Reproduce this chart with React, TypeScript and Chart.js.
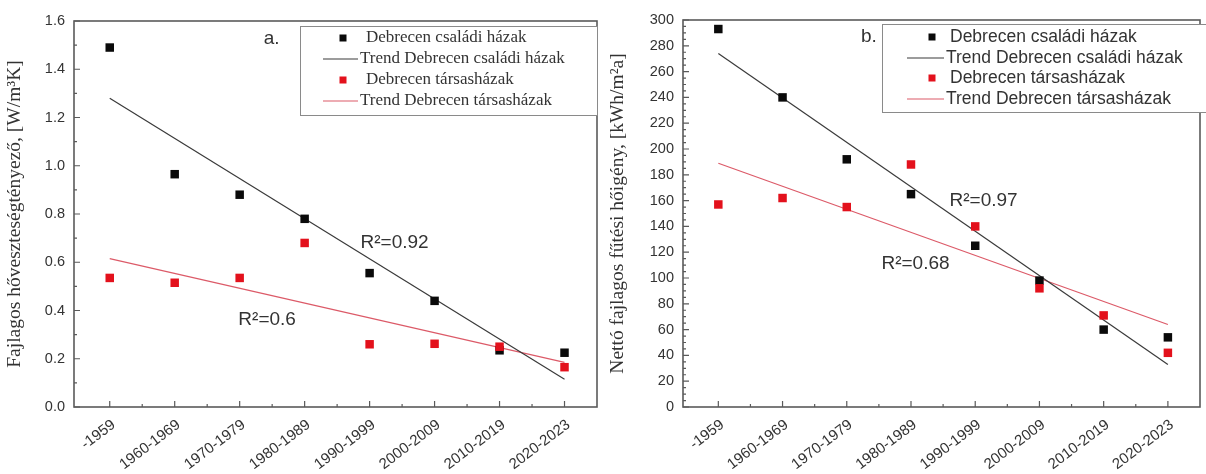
import React, { useEffect, useRef } from 'react';
import { Chart, registerables } from 'chart.js';

Chart.register(...registerables);

// ---------- data ----------
const categories = ['-1959', '1960-1969', '1970-1979', '1980-1989', '1990-1999', '2000-2009', '2010-2019', '2020-2023'];

// (a) specific heat loss coefficient [W/m3K]
const uHouses = [1.49, 0.965, 0.88, 0.78, 0.555, 0.44, 0.235, 0.225];
const uFlats = [0.535, 0.515, 0.535, 0.68, 0.26, 0.262, 0.25, 0.165];
const uTrendHouses = [1.28, 0.115];
const uTrendFlats = [0.615, 0.185];
const uTicks = [0, 0.2, 0.4, 0.6, 0.8, 1.0, 1.2, 1.4, 1.6];

// (b) net specific heating demand [kWh/m2a]
const qHouses = [293, 240, 192, 165, 125, 98, 60, 54];
const qFlats = [157, 162, 155, 188, 140, 92, 71, 42];
const qTrendHouses = [274, 33];
const qTrendFlats = [189, 64];
const qTicks = [0, 20, 40, 60, 80, 100, 120, 140, 160, 180, 200, 220, 240, 260, 280, 300];

const trendX = [0, 7];

const legendLabels = [
  'Debrecen családi házak',
  'Trend Debrecen családi házak',
  'Debrecen társasházak',
  'Trend Debrecen társasházak',
];

const titleA = 'Fajlagos hőveszteségtényező, [W/m³K]';
const titleB = 'Nettó fajlagos fűtési hőigény, [kWh/m²a]';

const notesA = [
  { text: 'a.', x: 2.37, y: 1.525 },
  { text: 'R²=0.92', x: 3.86, y: 0.68 },
  { text: 'R²=0.6', x: 1.98, y: 0.363 },
];
const notesB = [
  { text: 'b.', x: 2.22, y: 287 },
  { text: 'R²=0.97', x: 3.6, y: 160 },
  { text: 'R²=0.68', x: 2.54, y: 111 },
];

// ---------- colours ----------
const BLACK = '#0a0a0a';
const RED = '#e3111c';
const TREND_BLACK = '#3a3a3a';
const TREND_RED = '#dc5a68';
const AXIS = '#5a5a5a';
const TEXT = '#333333';

// ---------- plugins ----------
const frameTicks = {
  id: 'frameTicks',
  afterDatasetsDraw(chart: any, _a: any, opts: any) {
    const { ctx, chartArea: a } = chart;
    const xs = chart.scales.x;
    const ys = chart.scales.y;
    ctx.save();
    ctx.strokeStyle = AXIS;
    ctx.lineWidth = 1.6;
    ctx.strokeRect(a.left, a.top, a.right - a.left, a.bottom - a.top);
    ctx.lineWidth = 1.2;
    ctx.beginPath();
    const yt = ys.ticks.map((t: any) => t.value);
    for (let i = 0; i < yt.length; i++) {
      const p = ys.getPixelForValue(yt[i]);
      ctx.moveTo(a.left, p);
      ctx.lineTo(a.left + 6, p);
      if (i < yt.length - 1) {
        const n = opts.yMinorCount;
        for (let k = 1; k <= n; k++) {
          const v = yt[i] + ((yt[i + 1] - yt[i]) * k) / (n + 1);
          const q = ys.getPixelForValue(v);
          ctx.moveTo(a.left, q);
          ctx.lineTo(a.left + 3, q);
        }
      }
    }
    const xt = xs.ticks.map((t: any) => t.value);
    for (let i = 0; i < xt.length; i++) {
      const p = xs.getPixelForValue(xt[i]);
      ctx.moveTo(p, a.bottom);
      ctx.lineTo(p, a.bottom - 6);
      if (i < xt.length - 1) {
        const q = xs.getPixelForValue((xt[i] + xt[i + 1]) / 2);
        ctx.moveTo(q, a.bottom);
        ctx.lineTo(q, a.bottom - 3);
      }
    }
    ctx.stroke();
    ctx.restore();
  },
};

const boxLegend = {
  id: 'boxLegend',
  afterDraw(chart: any, _a: any, o: any) {
    const { ctx } = chart;
    const ds = chart.data.datasets;
    ctx.save();
    ctx.fillStyle = '#ffffff';
    ctx.fillRect(o.left, o.top, o.right - o.left, o.bottom - o.top);
    ctx.strokeStyle = '#8a8a8a';
    ctx.lineWidth = 1;
    ctx.strokeRect(o.left + 0.5, o.top + 0.5, o.right - o.left, o.bottom - o.top);
    ctx.font = o.font;
    ctx.textBaseline = 'middle';
    ctx.textAlign = 'left';
    ds.forEach((d: any, i: number) => {
      const y = o.rows[i];
      if (d.showLine) {
        ctx.strokeStyle = d.borderColor;
        ctx.lineWidth = 1.2;
        ctx.beginPath();
        ctx.moveTo(o.lineX1, y);
        ctx.lineTo(o.lineX2, y);
        ctx.stroke();
        ctx.fillStyle = TEXT;
        ctx.fillText(d.label, o.lineX2 + 2, y);
      } else {
        ctx.fillStyle = d.backgroundColor;
        ctx.fillRect(o.symX - 3.5, y - 3.5, 7, 7);
        ctx.fillStyle = TEXT;
        ctx.fillText(d.label, o.textX, y);
      }
    });
    ctx.restore();
  },
};

const notesPlugin = {
  id: 'notes',
  afterDraw(chart: any, _a: any, o: any) {
    const { ctx } = chart;
    const xs = chart.scales.x;
    const ys = chart.scales.y;
    ctx.save();
    ctx.font = o.font;
    ctx.fillStyle = TEXT;
    ctx.textAlign = 'left';
    ctx.textBaseline = 'middle';
    o.items.forEach((n: any) => {
      ctx.fillText(n.text, xs.getPixelForValue(n.x), ys.getPixelForValue(n.y));
    });
    ctx.restore();
  },
};

// ---------- config builder ----------
function buildConfig(p: any) {
  const pts = (vals: number[]) => vals.map((v, i) => ({ x: i, y: v }));
  const trend = (vals: number[]) => vals.map((v, i) => ({ x: trendX[i], y: v }));
  return {
    type: 'scatter',
    data: {
      datasets: [
        {
          label: legendLabels[0],
          data: pts(p.houses),
          backgroundColor: BLACK,
          borderColor: BLACK,
          pointStyle: 'rect',
          pointRadius: 6,
          borderWidth: 0,
          showLine: false,
          order: 1,
        },
        {
          label: legendLabels[1],
          data: trend(p.trendHouses),
          borderColor: TREND_BLACK,
          backgroundColor: TREND_BLACK,
          borderWidth: 1.2,
          pointRadius: 0,
          showLine: true,
          order: 2,
        },
        {
          label: legendLabels[2],
          data: pts(p.flats),
          backgroundColor: RED,
          borderColor: RED,
          pointStyle: 'rect',
          pointRadius: 6,
          borderWidth: 0,
          showLine: false,
          order: 0,
        },
        {
          label: legendLabels[3],
          data: trend(p.trendFlats),
          borderColor: TREND_RED,
          backgroundColor: TREND_RED,
          borderWidth: 1.2,
          pointRadius: 0,
          showLine: true,
          order: 3,
        },
      ],
    },
    options: {
      animation: false,
      responsive: false,
      devicePixelRatio: 1,
      layout: { padding: { top: p.padTop, right: p.padRight, left: 0, bottom: 0 } },
      plugins: {
        legend: { display: false },
        tooltip: { enabled: false },
        frameTicks: { yMinorCount: p.yMinorCount },
        boxLegend: p.legend,
        notes: { items: p.notes, font: '19px "Liberation Sans", Arial, sans-serif' },
      },
      scales: {
        x: {
          type: 'linear',
          min: -0.55,
          max: 7.5,
          grid: { display: false, drawTicks: false },
          border: { display: false },
          afterBuildTicks: (s: any) => {
            s.ticks = categories.map((_, i) => ({ value: i }));
          },
          afterFit: (s: any) => {
            s.height = p.xAxisHeight;
          },
          ticks: {
            autoSkip: false,
            minRotation: 37,
            maxRotation: 37,
            padding: 9,
            labelOffset: 4,
            color: TEXT,
            font: { family: '"Liberation Sans", Arial, sans-serif', size: 15 },
            callback: (v: any) => categories[Math.round(v)] ?? '',
          },
        },
        y: {
          type: 'linear',
          min: p.yTicks[0],
          max: p.yTicks[p.yTicks.length - 1],
          grid: { display: false, drawTicks: false },
          border: { display: false },
          afterBuildTicks: (s: any) => {
            s.ticks = p.yTicks.map((v: number) => ({ value: v }));
          },
          afterFit: (s: any) => {
            s.width = p.yAxisWidth;
          },
          ticks: {
            padding: 9,
            color: TEXT,
            font: { family: '"Liberation Sans", Arial, sans-serif', size: 14.5 },
            callback: (v: any) => p.fmt(v),
          },
          title: {
            display: true,
            text: p.yTitle,
            color: TEXT,
            padding: { top: 3, bottom: 0 },
            font: { family: '"Liberation Serif", "Times New Roman", serif', size: 19.5 },
          },
        },
      },
    },
    plugins: [frameTicks, boxLegend, notesPlugin],
  };
}

const serifLegend = '17px "Liberation Serif", "Times New Roman", serif';
const sansLegend = '17.5px "Liberation Sans", Arial, sans-serif';

const cfgA = {
  houses: uHouses,
  flats: uFlats,
  trendHouses: uTrendHouses,
  trendFlats: uTrendFlats,
  yTicks: uTicks,
  yMinorCount: 1,
  fmt: (v: number) => v.toFixed(1),
  yTitle: titleA,
  notes: notesA,
  padTop: 21,
  padRight: 3,
  yAxisWidth: 74,
  xAxisHeight: 67,
  legend: {
    left: 300, top: 26, right: 597, bottom: 115,
    rows: [38, 59, 80, 101],
    symX: 343, lineX1: 323, lineX2: 358, textX: 366,
    font: serifLegend,
  },
};

const cfgB = {
  houses: qHouses,
  flats: qFlats,
  trendHouses: qTrendHouses,
  trendFlats: qTrendFlats,
  yTicks: qTicks,
  yMinorCount: 3,
  fmt: (v: number) => String(Math.round(v)),
  yTitle: titleB,
  notes: notesB,
  padTop: 20,
  padRight: 1,
  yAxisWidth: 80,
  xAxisHeight: 67,
  legend: {
    left: 279, top: 24, right: 605, bottom: 112,
    rows: [37, 58, 78, 99],
    symX: 329, lineX1: 304, lineX2: 341, textX: 347,
    font: sansLegend,
  },
};

function ChartCanvas({ cfg }: { cfg: any }) {
  const ref = useRef<HTMLCanvasElement>(null);
  useEffect(() => {
    if (!ref.current) return;
    const chart = new Chart(ref.current, buildConfig(cfg) as any);
    return () => chart.destroy();
  }, [cfg]);
  return <canvas ref={ref} width={603} height={474} style={{ display: 'block', width: 603, height: 474 }} />;
}

export default function App() {
  return (
    <div
      style={{
        position: 'absolute',
        left: 0,
        top: 0,
        width: 1206,
        height: 474,
        background: '#ffffff',
        display: 'flex',
        overflow: 'hidden',
      }}
    >
      <ChartCanvas cfg={cfgA} />
      <ChartCanvas cfg={cfgB} />
    </div>
  );
}
